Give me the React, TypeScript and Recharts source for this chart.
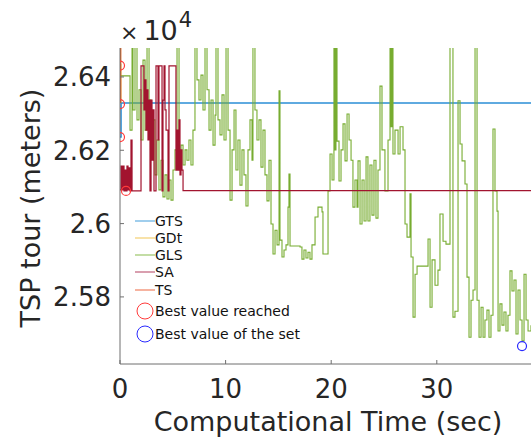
import { ComposedChart, Legend, Line, Scatter, XAxis, YAxis } from 'recharts';

// tour length in units of 10^4 m, time in seconds
const glsTime = [
  0, 0.95, 1.14, 1.23, 1.42, 1.61, 1.8, 1.99, 2.18, 2.37,
  2.56, 2.75, 2.94, 3.13, 3.31, 3.5, 3.69, 3.88, 4.07, 4.26,
  4.45, 4.64, 4.83, 5.02, 5.21, 5.4, 5.59, 5.78, 5.97, 6.16,
  6.34, 6.53, 6.72, 6.91, 7.1, 7.29, 7.48, 7.67, 7.86, 8.05,
  8.24, 8.43, 8.62, 8.81, 9.0, 9.09, 9.28, 9.47, 9.66, 9.85,
  10.04, 10.23, 10.42, 10.61, 10.8, 10.98, 11.17, 11.36, 11.55, 11.74,
  11.93, 12.12, 12.31, 12.5, 12.59, 12.78, 12.97, 13.16, 13.35, 13.54,
  13.73, 13.92, 14.11, 14.3, 14.49, 14.68, 14.87, 15.06, 15.15, 15.34,
  15.53, 15.72, 15.91, 16.0, 16.1, 17.05, 17.23, 17.42, 17.61, 17.8,
  17.99, 18.18, 18.47, 18.75, 19.13, 19.22, 19.7, 19.89, 20.08, 20.26,
  20.36, 20.45, 20.55, 20.74, 20.93, 21.12, 21.31, 21.5, 21.69, 21.88,
  22.06, 22.25, 22.44, 22.54, 22.73, 22.92, 23.11, 23.3, 23.48, 23.67,
  23.86, 24.05, 24.24, 24.43, 24.62, 24.81, 25.09, 25.38, 25.57, 25.66,
  25.76, 25.85, 26.04, 26.33, 26.52, 26.8, 26.99, 27.18, 27.46, 27.56,
  27.75, 27.94, 28.13, 29.17, 29.36, 29.55, 29.83, 30.11, 30.3, 30.59,
  30.87, 31.25, 31.53, 31.72, 32.01, 32.2, 32.39, 32.67, 32.86, 33.05,
  33.24, 33.43, 33.62, 33.81, 34.0, 34.19, 34.38, 34.56, 34.75, 34.94,
  35.13, 35.32, 35.51, 35.7, 35.8, 35.98, 36.17, 36.36, 36.55, 36.74,
  36.93, 37.12, 37.31, 37.5, 37.69, 37.88, 38.07, 38.26, 38.45, 38.64, 38.92,
];
const glsTour = [
  2.6403, 2.6255, 2.649, 2.631, 2.649, 2.6283, 2.6365, 2.6228, 2.6446, 2.6255,
  2.649, 2.6337, 2.6201, 2.6283, 2.6133, 2.6228, 2.6092, 2.6173, 2.6073, 2.6133,
  2.6067, 2.6119, 2.6064, 2.6146, 2.6201, 2.649, 2.6173, 2.6214, 2.616, 2.6201,
  2.6173, 2.6228, 2.616, 2.6255, 2.649, 2.6392, 2.6337, 2.6405, 2.631, 2.649,
  2.6365, 2.6255, 2.6337, 2.6214, 2.6296, 2.649, 2.6283, 2.6242, 2.6351, 2.6228,
  2.649, 2.6255, 2.6064, 2.6201, 2.631, 2.6146, 2.6228, 2.6105, 2.6201, 2.6133,
  2.6048, 2.6201, 2.6283, 2.6173, 2.649, 2.631, 2.6228, 2.6283, 2.6154, 2.6255,
  2.6133, 2.6062, 2.6173, 2.5999, 2.5917, 2.5982, 2.5942, 2.6362, 2.5955, 2.5909,
  2.5928, 2.5942, 2.6045, 2.6135, 2.5939, 2.5936, 2.5903, 2.5928, 2.5906, 2.5922,
  2.5903, 2.5942, 2.6018, 2.6045, 2.6032, 2.5917, 2.6089, 2.619, 2.6119, 2.649,
  2.6201, 2.649, 2.6225, 2.6116, 2.6201, 2.6272, 2.6171, 2.6299, 2.6228, 2.6173,
  2.6045, 2.6119, 2.6045, 2.6171, 2.5999, 2.6119, 2.6007, 2.6182, 2.6007, 2.616,
  2.6023, 2.6173, 2.6015, 2.6146, 2.6375, 2.6201, 2.6089, 2.6228, 2.649, 2.6264,
  2.649, 2.619, 2.6255, 2.619, 2.6264, 2.6201, 2.5999, 2.5963, 2.6081, 2.5909,
  2.5745, 2.5862, 2.5884, 2.5958, 2.5772, 2.5901, 2.5832, 2.5873, 2.6026, 2.5952,
  2.5944, 2.649, 2.5745, 2.5761, 2.6335, 2.6217, 2.6171, 2.6108, 2.5854, 2.569,
  2.5791, 2.5819, 2.649, 2.5791, 2.569, 2.5772, 2.569, 2.5737, 2.5764, 2.569,
  2.575, 2.6258, 2.6089, 2.6034, 2.5707, 2.5781, 2.5723, 2.5759, 2.5707, 2.575,
  2.5871, 2.5816, 2.5846, 2.5699, 2.5819, 2.5737, 2.568, 2.5862, 2.5737, 2.5707, 2.5723,
];

const saTime = [
  0, 0.09, 0.19, 0.28, 0.38, 0.47, 0.57, 0.66, 0.76, 0.85,
  0.95, 1.04, 1.14, 1.99, 2.27, 2.37, 2.46, 2.56, 2.65, 2.75,
  2.84, 2.94, 3.03, 3.13, 3.22, 3.41, 3.6, 3.69, 3.98, 4.07,
  4.17, 4.26, 4.36, 4.55, 4.64, 5.3, 5.4, 5.49, 5.59, 5.68,
  5.78, 5.87, 5.97, 38.92,
];
const saTour = [
  2.6092, 2.6157, 2.6092, 2.6157, 2.6089, 2.6146, 2.6089, 2.6157, 2.6092, 2.6152,
  2.6089, 2.6228, 2.6089, 2.643, 2.631, 2.6392, 2.6255, 2.6365, 2.6228, 2.6337,
  2.6089, 2.6337, 2.6173, 2.631, 2.6089, 2.643, 2.6228, 2.643, 2.6089, 2.6337,
  2.643, 2.631, 2.6255, 2.6089, 2.643, 2.6146, 2.6255, 2.6146, 2.6283, 2.6133,
  2.6201, 2.6146, 2.609, 2.609,
];

const gtsTime = [0, 0.1, 38.92];
const gtsTour = [2.6236, 2.6329, 2.6329];
const gdtTime = [0, 0.05];
const gdtTour = [2.6433, 2.6329];
const tsTime = [0, 0.06];
const tsTour = [2.649, 2.6329];

const reachedTime = [0, 0, 0, 0.57];
const reachedTour = [2.6431, 2.6326, 2.6236, 2.6089];
const setBestTime = [38.07];
const setBestTour = [2.5666];

const xTicks = [0, 10, 20, 30];
const yTicks = [2.58, 2.6, 2.62, 2.64];
const xDomain = [0, 38.92];
const yDomain = [2.5617, 2.6479];

const seriesNames = ['GTS', 'GDt', 'GLS', 'SA', 'TS'];
const markerNames = ['Best value reached', 'Best value of the set'];

const LINE_COLORS = ['#2b8fd6', '#edb120', '#77ac30', '#a2142f', '#e0601f'];
const LEGEND_COLORS = ['#62aee2', '#f3cf70', '#9cc66a', '#c0607a', '#f08060'];
const MARKER_COLORS = ['#ff3b3b', '#2a2aff'];
const AXIS = '#6f6f6f';
const TEXT = '#262626';
const FONT = '"DejaVu Sans", sans-serif';

const zip = (t: number[], v: number[]) =>
  t.slice(0, Math.min(t.length, v.length)).map((x, i) => ({ t: x, v: v[i] }));

const gts = zip(gtsTime, gtsTour);
const gdt = zip(gdtTime, gdtTour);
const gls = zip(glsTime, glsTour);
const sa = zip(saTime, saTour);
const ts = zip(tsTime, tsTour);
const reached = zip(reachedTime, reachedTour);
const setBest = zip(setBestTime, setBestTour);

function ring(color: string) {
  return (p: any) => <circle cx={p.cx} cy={p.cy} r={4.5} fill="none" stroke={color} strokeWidth={1.2} />;
}

function LegendBox() {
  return (
    <div style={{ fontFamily: FONT, fontSize: 14, color: '#111' }}>
      {seriesNames.map((name, i) => (
        <div key={name} style={{ height: 17.25, display: 'flex', alignItems: 'center' }}>
          <svg width={20} height={4}>
            <line x1={0} y1={2} x2={20} y2={2} stroke={LEGEND_COLORS[i]} strokeWidth={1.2} />
          </svg>
          <span>{name}</span>
        </div>
      ))}
      <div style={{ height: 1.5 }} />
      {markerNames.map((name, i) => (
        <div key={name} style={{ height: 23, display: 'flex', alignItems: 'center' }}>
          <svg width={20} height={20}>
            <circle cx={10} cy={10} r={8} fill="none" stroke={MARKER_COLORS[i]} strokeWidth={1} />
          </svg>
          <span>{name}</span>
        </div>
      ))}
    </div>
  );
}

export default function App() {
  const tickStyle = { fill: TEXT, fontSize: 26, fontFamily: FONT };
  return (
    <div style={{ position: 'absolute', left: 0, top: 0, width: 531, height: 439, background: '#fff', overflow: 'hidden' }}>
      <ComposedChart width={531} height={439} margin={{ top: 48, right: 0, bottom: 0, left: 0 }}>
        <XAxis
          xAxisId="top"
          orientation="top"
          type="number"
          dataKey="t"
          domain={xDomain}
          ticks={xTicks}
          allowDataOverflow
          height={0}
          tick={false}
          tickSize={-4}
          stroke={AXIS}
        />
        <XAxis
          type="number"
          dataKey="t"
          domain={xDomain}
          ticks={xTicks}
          allowDataOverflow
          height={75}
          tickSize={-4}
          tickMargin={20}
          tick={tickStyle}
          stroke={AXIS}
        />
        <YAxis
          type="number"
          dataKey="v"
          domain={yDomain}
          ticks={yTicks}
          allowDataOverflow
          width={120}
          tickSize={-4}
          tickMargin={13}
          tick={tickStyle}
          tickFormatter={(v: number) => String(Number(v.toFixed(2)))}
          stroke={AXIS}
        />
        <Legend
          layout="vertical"
          align="center"
          verticalAlign="middle"
          content={() => <LegendBox />}
          wrapperStyle={{ position: 'absolute', left: 135, top: 212, width: 220, height: 'auto' }}
        />
        <Line data={gts} dataKey="v" type="stepAfter" stroke={LINE_COLORS[0]} strokeWidth={1.5} dot={false} isAnimationActive={false} />
        <Line data={gdt} dataKey="v" type="stepAfter" stroke={LINE_COLORS[1]} strokeWidth={1.5} dot={false} isAnimationActive={false} />
        <Line data={gls} dataKey="v" type="stepAfter" stroke={LINE_COLORS[2]} strokeWidth={1.1} dot={false} isAnimationActive={false} />
        <Line data={sa} dataKey="v" type="stepAfter" stroke={LINE_COLORS[3]} strokeWidth={1.2} dot={false} isAnimationActive={false} />
        <Line data={ts} dataKey="v" type="stepAfter" stroke={LINE_COLORS[4]} strokeWidth={1.5} dot={false} isAnimationActive={false} />
        <Scatter data={reached} dataKey="v" shape={ring(MARKER_COLORS[0])} isAnimationActive={false} />
        <Scatter data={setBest} dataKey="v" shape={ring(MARKER_COLORS[1])} isAnimationActive={false} />
      </ComposedChart>
      <div style={{ position: 'absolute', left: 120, top: 17, fontFamily: FONT, color: TEXT, fontSize: 27, lineHeight: 1, whiteSpace: 'nowrap' }}>
        <span style={{ fontSize: 22, marginRight: 5 }}>×</span>10
        <span style={{ fontSize: 21, position: 'relative', top: -13, marginLeft: 1 }}>4</span>
      </div>
      <div
        style={{
          position: 'absolute', left: 30, top: 208, transform: 'translate(-50%, -50%) rotate(-90deg)',
          fontFamily: FONT, color: TEXT, fontSize: 27, lineHeight: 1, whiteSpace: 'nowrap',
        }}
      >
        TSP tour (meters)
      </div>
      <div
        style={{
          position: 'absolute', left: 328, top: 408, transform: 'translateX(-50%)',
          fontFamily: FONT, color: TEXT, fontSize: 27, lineHeight: 1, whiteSpace: 'nowrap',
        }}
      >
        Computational Time (sec)
      </div>
    </div>
  );
}
